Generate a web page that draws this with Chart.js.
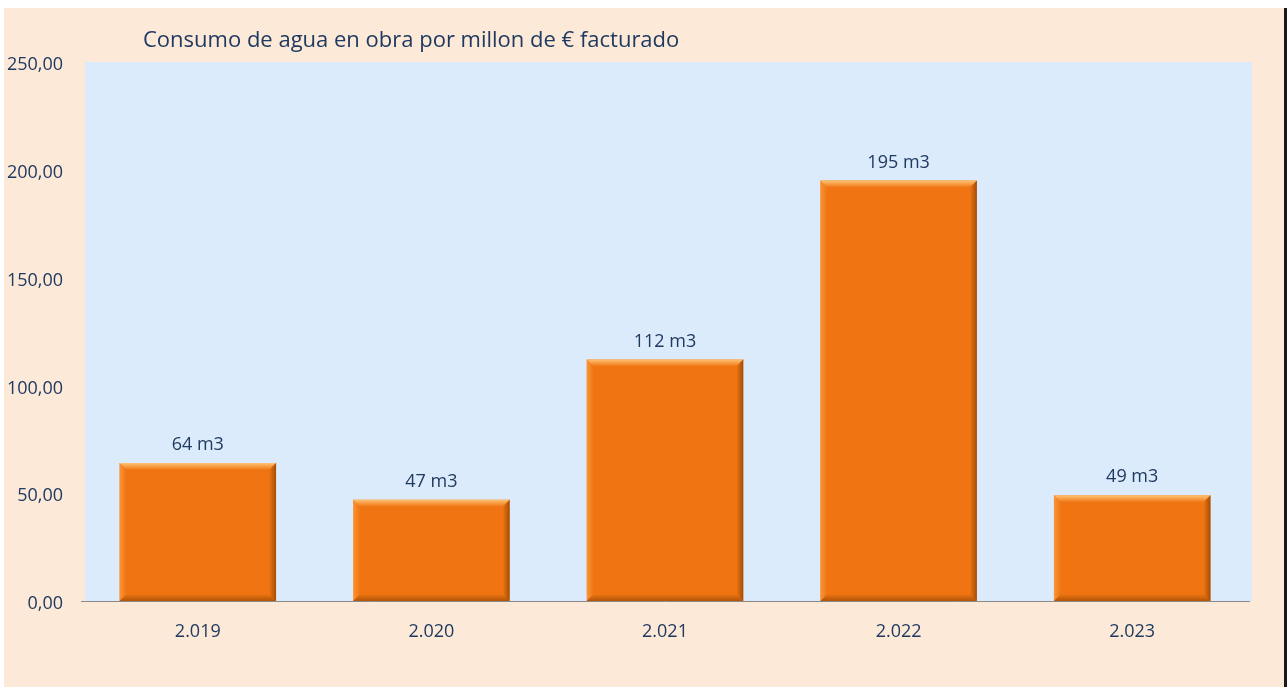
<!DOCTYPE html>
<html>
<head>
<meta charset="utf-8">
<script src="https://cdn.jsdelivr.net/npm/chart.js@4"></script>
<style>
    html, body { margin: 0; padding: 0; background: #ffffff; }
    #frame {
        position: absolute; left: 4px; top: 8px;
        width: 1280px; height: 679px;
        background: #fde9d8;
        border-right: 3px solid #1a1a1a;
    }
    #frame canvas { position: absolute; left: 0; top: 0; }
</style>
</head>
<body>
<div id="frame"><canvas id="water-chart" width="1280" height="679"></canvas></div>
<script>
// Consumo de agua - datos
const years = ['2.019', '2.020', '2.021', '2.022', '2.023'];
const waterPerMillion = [64, 47, 112, 195, 49];
const valueLabels = ['64 m3', '47 m3', '112 m3', '195 m3', '49 m3'];
const yTickLabels = ['0,00', '50,00', '100,00', '150,00', '200,00', '250,00'];

const textColor = '#1f3a60';
const fontFamily = "'Open Sans', 'Noto Sans', sans-serif";

// plot background + title
const backdropPlugin = {
    id: 'backdrop',
    beforeDraw(chart) {
        const { ctx, chartArea } = chart;
        ctx.save();
        ctx.fillStyle = '#dbebfb';
        ctx.fillRect(chartArea.left + 4, chartArea.top, chartArea.right - chartArea.left - 1, chartArea.bottom - chartArea.top);
        ctx.fillStyle = textColor;
        ctx.font = `22px ${fontFamily}`;
        ctx.textBaseline = 'middle';
        ctx.fillText('Consumo de agua en obra por millon de € facturado', 139, 33);
        ctx.restore();
    }
};

// bevel look on each bar + value labels
const bevelPlugin = {
    id: 'bevel',
    afterDatasetsDraw(chart) {
        const { ctx } = chart;
        const meta = chart.getDatasetMeta(0);
        meta.data.forEach((bar, i) => {
            const left = bar.x - bar.width / 2;
            const right = bar.x + bar.width / 2;
            const top = bar.y;
            const bottom = bar.base;
            const b = 7;
            ctx.save();
            // top highlight
            let g = ctx.createLinearGradient(0, top, 0, top + b);
            g.addColorStop(0, 'rgba(255,195,115,1)');
            g.addColorStop(1, 'rgba(255,195,115,0)');
            ctx.fillStyle = g;
            ctx.beginPath();
            ctx.moveTo(left, top); ctx.lineTo(right, top);
            ctx.lineTo(right - b, top + b); ctx.lineTo(left + b, top + b);
            ctx.closePath(); ctx.fill();
            // left light edge
            g = ctx.createLinearGradient(left, 0, left + b, 0);
            g.addColorStop(0, 'rgba(255,170,80,0.6)');
            g.addColorStop(1, 'rgba(255,170,80,0)');
            ctx.fillStyle = g;
            ctx.beginPath();
            ctx.moveTo(left, top); ctx.lineTo(left + b, top + b);
            ctx.lineTo(left + b, bottom - b); ctx.lineTo(left, bottom);
            ctx.closePath(); ctx.fill();
            // right dark edge
            g = ctx.createLinearGradient(right, 0, right - b, 0);
            g.addColorStop(0, 'rgba(150,70,5,0.85)');
            g.addColorStop(1, 'rgba(150,70,5,0)');
            ctx.fillStyle = g;
            ctx.beginPath();
            ctx.moveTo(right, top); ctx.lineTo(right, bottom);
            ctx.lineTo(right - b, bottom - b); ctx.lineTo(right - b, top + b);
            ctx.closePath(); ctx.fill();
            // bottom dark edge
            g = ctx.createLinearGradient(0, bottom, 0, bottom - b);
            g.addColorStop(0, 'rgba(150,70,5,0.7)');
            g.addColorStop(1, 'rgba(150,70,5,0)');
            ctx.fillStyle = g;
            ctx.beginPath();
            ctx.moveTo(left, bottom); ctx.lineTo(right, bottom);
            ctx.lineTo(right - b, bottom - b); ctx.lineTo(left + b, bottom - b);
            ctx.closePath(); ctx.fill();

            ctx.fillStyle = textColor;
            ctx.font = `18px ${fontFamily}`;
            ctx.textAlign = 'center';
            ctx.textBaseline = 'middle';
            ctx.fillText(valueLabels[i], bar.x, top - 18);
            ctx.restore();
        });
    }
};

new Chart(document.getElementById('water-chart'), {
    type: 'bar',
    data: {
        labels: years,
        datasets: [{
            data: waterPerMillion,
            backgroundColor: '#f07512',
            borderWidth: 0,
            barPercentage: 0.67,
            categoryPercentage: 1
        }]
    },
    options: {
        responsive: false,
        animation: false,
        layout: { padding: { left: 0, top: 54, right: 35, bottom: 0 } },
        plugins: {
            legend: { display: false },
            tooltip: { enabled: false }
        },
        scales: {
            x: {
                grid: { display: false, drawTicks: false },
                border: { display: true, color: '#8a8a8a', width: 1 },
                ticks: { color: textColor, font: { family: fontFamily, size: 18 }, padding: 20 },
                afterFit(scale) { scale.height = 86; }
            },
            y: {
                min: 0,
                max: 250,
                grid: { display: false, drawTicks: false },
                border: { display: false },
                ticks: {
                    stepSize: 50,
                    color: textColor,
                    font: { family: fontFamily, size: 18 },
                    padding: 18,
                    labelOffset: 3,
                    callback: (v) => yTickLabels[v / 50]
                },
                afterFit(scale) { scale.width = 77; }
            }
        }
    },
    plugins: [backdropPlugin, bevelPlugin]
});
</script>
</body>
</html>
